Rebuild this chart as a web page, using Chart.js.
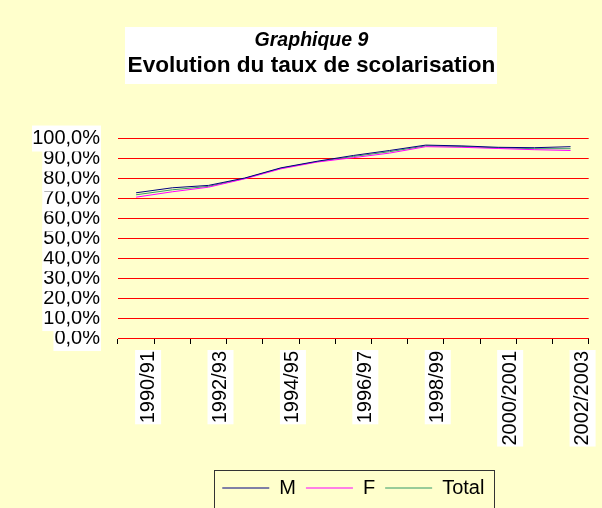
<!DOCTYPE html>
<html>
<head>
<meta charset="utf-8">
<script src="https://cdn.jsdelivr.net/npm/chart.js@4/dist/chart.umd.min.js"></script>
<style>
  html, body { margin: 0; padding: 0; background: #ffffcc; }
  #wrap { width: 602px; height: 508px; }
</style>
</head>
<body>
<div id="wrap"><canvas id="chart-1" width="602" height="508"></canvas></div>
<script>
const years = ['1990/91', '1991/92', '1992/93', '1993/94', '1994/95', '1995/96', '1996/97',
               '1997/98', '1998/99', '1999/2000', '2000/2001', '2001/2002', '2002/2003'];
const tauxM     = [72.8, 75.3, 76.5, 80.2, 85.3, 88.6, 91.5, 94.0, 96.7, 96.3, 95.6, 95.4, 95.9];
const tauxF     = [70.6, 73.3, 75.6, 79.8, 84.8, 88.2, 90.4, 92.7, 95.9, 95.6, 95.0, 94.4, 94.0];
const tauxTotal = [71.8, 74.3, 76.0, 80.0, 85.1, 88.4, 91.0, 93.4, 96.3, 96.0, 95.3, 94.9, 94.9];

const FONT = "'Liberation Sans', Arial, sans-serif";

// white box behind the title, and frame around the legend
const decor = {
    id: 'decor',
    beforeDraw(chart) {
        const c = chart.ctx;
        c.save();
        c.fillStyle = '#ffffff';
        c.fillRect(125, 27, 372, 57);
        c.restore();
    },
    afterDraw(chart) {
        const boxes = chart.legend.legendHitBoxes;
        if (!boxes || !boxes.length) return;
        const first = boxes[0];
        const last = boxes[boxes.length - 1];
        const c = chart.ctx;
        c.save();
        c.strokeStyle = '#333333';
        c.lineWidth = 1;
        c.strokeRect(Math.round(first.left - 8) + 0.5, Math.round(first.top - 8) + 0.5,
                     Math.round(last.left + last.width + 10 - first.left + 8), 60);
        c.restore();
    }
};

const ctx = document.getElementById('chart-1').getContext('2d');
const chart_1 = new Chart(ctx, {
    type: 'line',
    data: {
        labels: years,
        datasets: [
            { label: 'M', data: tauxM, borderColor: '#000080', backgroundColor: '#000080' },
            { label: 'F', data: tauxF, borderColor: '#ff00ff', backgroundColor: '#ff00ff' },
            { label: 'Total', data: tauxTotal, borderColor: '#339966', backgroundColor: '#339966' }
        ]
    },
    options: {
        responsive: false,
        animation: false,
        layout: { padding: { top: 0, left: 32, right: 11, bottom: 0 } },
        elements: {
            line: { borderWidth: 1, tension: 0 },
            point: { radius: 0, hoverRadius: 0 }
        },
        scales: {
            x: {
                offset: true,
                grid: { offset: true, drawOnChartArea: false, drawTicks: true, tickLength: 6, color: '#000' },
                border: { color: '#000' },
                ticks: {
                    autoSkip: false,
                    minRotation: 90,
                    maxRotation: 90,
                    padding: 7,
                    color: '#000',
                    font: { family: FONT, size: 20 },
                    showLabelBackdrop: true,
                    backdropPadding: 1,
                    backdropColor: c => (c.index % 2 === 0 ? '#ffffff' : 'rgba(0,0,0,0)'),
                    callback: (v, i) => (i % 2 === 0 ? years[i] : '')
                },
                afterFit: s => { s.height = 130; }
            },
            y: {
                min: 0,
                max: 100,
                grid: { color: 'rgb(255, 0, 0)', lineWidth: 1, drawTicks: false, z: 0 },
                border: { display: false },
                ticks: {
                    autoSkip: false,
                    stepSize: 10,
                    padding: 18,
                    color: '#000',
                    font: { family: FONT, size: 20 },
                    showLabelBackdrop: true,
                    backdropPadding: 1,
                    backdropColor: '#ffffff',
                    callback: v => v.toFixed(1).replace('.', ',') + '%'
                },
                afterFit: s => { s.width = 86; }
            }
        },
        plugins: {
            title: {
                display: true,
                text: 'Graphique 9',
                color: '#000',
                font: { family: FONT, size: 19.5, weight: 'bold', style: 'italic' },
                padding: { top: 29, bottom: 0 }
            },
            subtitle: {
                display: true,
                text: 'Evolution du taux de scolarisation',
                color: '#000',
                font: { family: FONT, size: 22.6, weight: 'bold' },
                padding: { top: 0, bottom: 59 }
            },
            legend: {
                position: 'bottom',
                fullSize: false,
                labels: {
                    usePointStyle: true,
                    pointStyle: 'line',
                    pointStyleWidth: 47,
                    padding: 10,
                    color: '#000',
                    font: { family: FONT, size: 20 }
                }
            },
            tooltip: { enabled: false }
        }
    },
    plugins: [decor]
});
</script>
</body>
</html>
